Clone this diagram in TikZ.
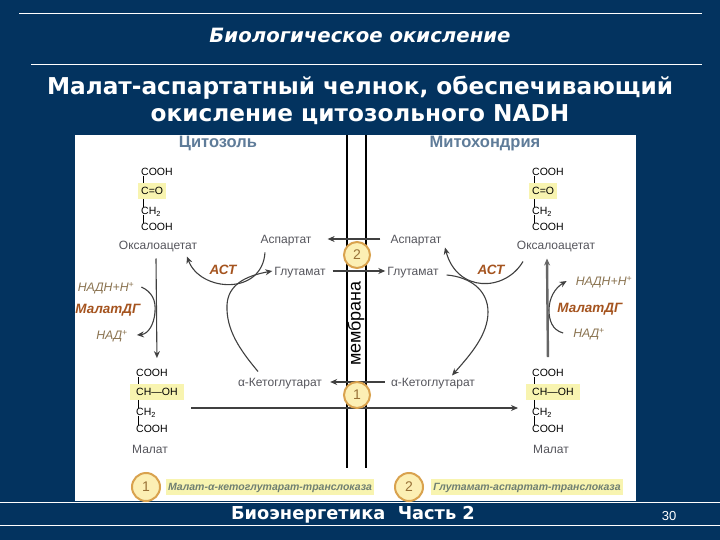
\documentclass[tikz,border=0pt]{standalone}
\usepackage{fontspec}
\setmainfont{Liberation Sans}
\newfontfamily\headfont{DejaVu Sans}
\usetikzlibrary{arrows.meta}
\definecolor{slide}{HTML}{03335F}
\definecolor{hilite}{HTML}{F8F4B0}
\definecolor{ringcol}{HTML}{D9A24E}
\definecolor{ringfill}{HTML}{FCEFB4}
\definecolor{partcol}{HTML}{5F7C99}
\definecolor{labcol}{HTML}{55555C}
\definecolor{enzcol}{HTML}{A5541F}
\definecolor{coencol}{HTML}{8A7350}
\definecolor{legcol}{HTML}{6F7F72}
\tikzset{
	chem/.style={anchor=west,inner sep=0pt,text height=7.5pt,text depth=0pt,text=black,font=\fontsize{10.5}{10}\selectfont},
	chemhi/.style={chem,fill=hilite,inner xsep=3pt,inner ysep=4pt},
	chemwide/.style={chemhi,inner xsep=6pt},
	bond/.style={black,line width=0.8pt},
	lab/.style={inner sep=2pt,text height=8.6pt,text depth=0pt,text=labcol,font=\fontsize{12}{12}\selectfont},
	enz/.style={inner sep=2pt,text height=9.5pt,text depth=0pt,text=enzcol,font=\fontsize{13.5}{14}\selectfont\bfseries\itshape},
	coen/.style={inner sep=2pt,text height=8.8pt,text depth=0pt,text=coencol,font=\fontsize{12.3}{12}\selectfont\itshape},
	part/.style={inner sep=1pt,text height=11pt,text depth=0pt,text=partcol,font=\fontsize{16.5}{17}\selectfont\bfseries},
	ring/.style={circle,draw=ringcol,fill=ringfill,line width=2pt,inner sep=0pt,minimum size=26pt,text=ringcol!70!black,font=\fontsize{14}{14}\selectfont},
	legend/.style={fill=hilite,inner xsep=2pt,inner ysep=4pt,text height=7.5pt,text depth=0pt,text=legcol,font=\fontsize{10.5}{11}\selectfont\bfseries\itshape},
	flow/.style={draw=black!75,line width=1.1pt,-{Stealth[length=7pt,width=6pt]}},
	head/.style={text=white,inner sep=0pt}
}
\begin{document}
\begin{tikzpicture}[x=1pt,y=-1pt]
	\path[fill=slide,use as bounding box] (0,0) rectangle (720,540);
	\fill[white] (75,135) rectangle (636,501);
	\coordinate (topa) at (19,14);
	\coordinate (topb) at (702,14);
	\coordinate (midb) at (31,65);
	\coordinate (midc) at (702,65);
	\coordinate (lowa) at (0,502);
	\coordinate (lowb) at (720,502);
	\coordinate (basea) at (0,525);
	\coordinate (baseb) at (720,525);
	\coordinate (memla) at (347,135);
	\coordinate (memlb) at (347,468);
	\coordinate (memra) at (366,135);
	\coordinate (memrb) at (366,468);
	\begin{scope}[white,line width=1pt]
	\draw (topa) -- (topb);
	\draw (midb) -- (midc);
	\draw (lowa) -- (lowb);
	\draw (basea) -- (baseb);
	\end{scope}
	\node (subject) at (360,35.5) [head,font=\headfont\fontsize{19.7}{20}\selectfont\bfseries\itshape] {Биологическое окисление};
	\node (title) at (360,100.5) [head,align=center,font=\headfont\fontsize{23.2}{27}\selectfont\bfseries] {Малат-аспартатный челнок, обеспечивающий\\окисление цитозольного NADH};
	\node (course) at (353,514.5) [head,font=\headfont\fontsize{17.8}{18}\selectfont\bfseries] {Биоэнергетика\ \ Часть 2};
	\node (pageno) at (669,516) [head,font=\fontsize{13}{13}\selectfont] {30};
	\node (cyto) at (218,142) [part] {Цитозоль};
	\node (mito) at (485,142) [part] {Митохондрия};
	\draw[black,line width=2pt] (memla) -- (memlb);
	\draw[black,line width=2pt] (memra) -- (memrb);
	\node (oxaLa) at (141,172) [chem] {COOH};
	\node (oxaLb) at (138,191) [chemhi] {C=O};
	\node (oxaLc) at (141,211) [chem] {CH\textsubscript{2}};
	\node (oxaLd) at (141,227) [chem] {COOH};
	\node (oxaLn) at (158,245) [lab] {Оксалоацетат};
	\node (oxaRa) at (532,172) [chem] {COOH};
	\node (oxaRb) at (529,191) [chemhi] {C=O};
	\node (oxaRc) at (532,211) [chem] {CH\textsubscript{2}};
	\node (oxaRd) at (532,227) [chem] {COOH};
	\node (oxaRn) at (556,245) [lab] {Оксалоацетат};
	\node (malLa) at (136,373) [chem] {COOH};
	\node (malLb) at (130,392) [chemwide] {CH—OH};
	\node (malLc) at (136,412) [chem] {CH\textsubscript{2}};
	\node (malLd) at (136,429) [chem] {COOH};
	\node (malLn) at (150,449) [lab] {Малат};
	\node (malRa) at (532,373) [chem] {COOH};
	\node (malRb) at (526,392) [chemwide] {CH—OH};
	\node (malRc) at (532,412) [chem] {CH\textsubscript{2}};
	\node (malRd) at (532,429) [chem] {COOH};
	\node (malRn) at (551,449) [lab] {Малат};
	\draw[bond] ([xshift=2pt]oxaLa.south west) -- ([xshift=5pt]oxaLb.north west);
	\draw[bond] ([xshift=5pt]oxaLb.south west) -- ([xshift=2pt]oxaLc.north west);
	\draw[bond] ([xshift=2pt]oxaLc.south west) -- ([xshift=2pt]oxaLd.north west);
	\draw[bond] ([xshift=2pt]oxaRa.south west) -- ([xshift=5pt]oxaRb.north west);
	\draw[bond] ([xshift=5pt]oxaRb.south west) -- ([xshift=2pt]oxaRc.north west);
	\draw[bond] ([xshift=2pt]oxaRc.south west) -- ([xshift=2pt]oxaRd.north west);
	\draw[bond] ([xshift=2pt]malLa.south west) -- ([xshift=8pt]malLb.north west);
	\draw[bond] ([xshift=8pt]malLb.south west) -- ([xshift=2pt]malLc.north west);
	\draw[bond] ([xshift=2pt]malLc.south west) -- ([xshift=2pt]malLd.north west);
	\draw[bond] ([xshift=2pt]malRa.south west) -- ([xshift=8pt]malRb.north west);
	\draw[bond] ([xshift=8pt]malRb.south west) -- ([xshift=2pt]malRc.north west);
	\draw[bond] ([xshift=2pt]malRc.south west) -- ([xshift=2pt]malRd.north west);
	\node (aspL) at (286,239) [lab] {Аспартат};
	\node (aspR) at (416,239) [lab] {Аспартат};
	\node (gluL) at (300,271) [lab] {Глутамат};
	\node (gluR) at (413,271) [lab] {Глутамат};
	\node (ketL) at (280,382) [lab] {α-Кетоглутарат};
	\node (ketR) at (433,382) [lab] {α-Кетоглутарат};
	\node (astL) at (223,270) [enz] {АСТ};
	\node (astR) at (491,270) [enz] {АСТ};
	\node (nadhL) at (106,287) [coen] {НАДН+Н\textsuperscript{+}};
	\node (mdgL) at (108,309) [enz] {МалатДГ};
	\node (nadL) at (112,335) [coen] {НАД\textsuperscript{+}};
	\node (nadhR) at (604,281) [coen] {НАДН+Н\textsuperscript{+}};
	\node (mdgR) at (590,308) [enz] {МалатДГ};
	\node (nadR) at (589,333) [coen] {НАД\textsuperscript{+}};
	\draw[flow] ([xshift=-8pt]aspR.west) -- ([xshift=14pt]aspL.east);
	\draw[flow] ([xshift=5pt]gluL.east) -- (gluR.west);
	\draw[flow] ([xshift=-4pt]ketR.west) -- ([xshift=6pt]ketL.east);
	\draw[flow] ([xshift=35pt,yshift=4pt]malLc.east) -- ([xshift=-14pt,yshift=4pt]malRc.west);
	\draw[flow] ([xshift=-21pt,yshift=-7pt]aspL.south) .. controls (262,296) and (200,292) .. ([xshift=29pt,yshift=-5pt]oxaLn.south);
	\draw[flow] ([xshift=-22pt,yshift=4pt]ketL.north) .. controls (240,350) and (226,330) .. (227,305) .. controls (228,285) and (245,276) .. (gluL.west);
	\draw[flow] ([xshift=-33pt,yshift=-10pt]oxaRn.south) .. controls (505,292) and (457,293) .. ([xshift=29pt,yshift=-2pt]aspR.south);
	\draw[flow] ([xshift=6pt,yshift=-4pt]gluR.east) .. controls (470,277) and (488,290) .. (488,312) .. controls (488,335) and (470,355) .. ([xshift=19pt]ketR.north);
	\draw[flow] ([xshift=-2pt,yshift=-7pt]oxaLn.south) -- ([xshift=5pt,yshift=11pt]malLa.north);
	\draw[flow,draw=black!60,line width=2.4pt] ([yshift=12pt]malRa.north) -- ([xshift=-9pt,yshift=-7pt]oxaRn.south);
	\draw[flow] ([xshift=5pt]nadhL.east) .. controls (152,292) and (156,300) .. (155,312) .. controls (154,325) and (148,334) .. ([xshift=7pt]nadL.east);
	\draw[flow] ([xshift=-8pt]nadR.west) .. controls (552,330) and (549,320) .. (549,310) .. controls (549,298) and (555,288) .. ([xshift=-7pt]nadhR.west);
	\node (carrierB) at (357,255) [ring] {2};
	\node (carrierA) at (357,395) [ring] {1};
	\node (membrane) at (356,323.5) [rotate=90,inner sep=0pt,text=black,font=\fontsize{18}{18}\selectfont] {мембрана};
	\node (legringA) at (146,487) [ring,minimum size=28pt] {1};
	\node (legringB) at (409,487) [ring,minimum size=28pt] {2};
	\node (legA) at (270,487) [legend] {Малат-α-кетоглутарат-транслоказа};
	\node (legB) at (527,487) [legend] {Глутамат-аспартат-транслоказа};
\end{tikzpicture}
\end{document}
